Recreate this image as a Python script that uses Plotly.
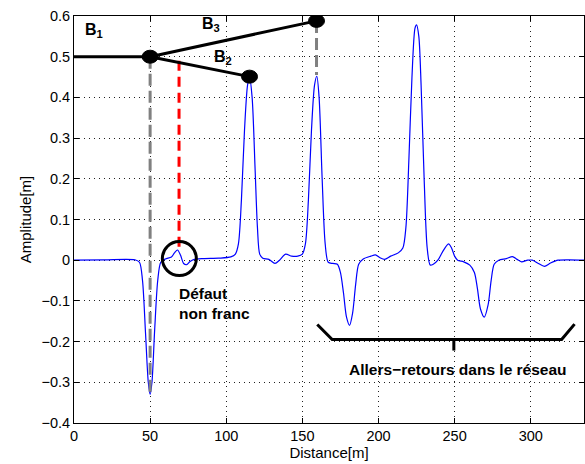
import plotly.graph_objects as go

# Signal (distance [m], amplitude [m])
dist = [0, 20, 40, 43, 45, 47, 48.8, 50, 51.2, 53, 55, 57, 60, 64, 66, 68, 70, 72, 74, 76, 79,
        85, 95, 103, 106, 108, 110, 112, 114, 115.3, 117, 119, 120.5, 122, 124, 128, 132,
        135, 139, 143, 147, 150, 152, 154, 156, 158, 159.5, 161, 163, 165, 167, 170, 173,
        175, 177, 179, 181, 183, 185, 187, 190, 195, 198, 201, 204, 208, 213, 216, 218,
        220, 222, 224, 225, 226.5, 228, 230, 232, 234, 236, 239, 242, 246, 248, 250, 252,
        256, 260, 263, 265, 267, 269.5, 272, 274, 276, 279, 284, 288, 291, 294, 298, 301,
        305, 309, 313, 318, 325, 336]
amp = [0.0, 0.001, 0.001, -0.005, -0.05, -0.18, -0.30, -0.33, -0.30, -0.17, -0.05, -0.005,
       0.003, 0.008, 0.018, 0.025, 0.012, -0.008, -0.011, -0.004, 0.002,
       0.004, 0.005, 0.008, 0.015, 0.04, 0.15, 0.32, 0.43, 0.45, 0.40, 0.22, 0.08, 0.015,
       0.005, 0.002, -0.008,
       0.0, 0.015, 0.01, 0.01, 0.015, 0.04, 0.15, 0.32, 0.43, 0.452, 0.40, 0.2, 0.04,
       -0.005, -0.008, -0.01,
       -0.03, -0.08, -0.14, -0.16, -0.13, -0.06, -0.01, 0.003, 0.01, 0.013, 0.006, 0.002,
       0.01, 0.018, 0.03, 0.08,
       0.25, 0.45, 0.57, 0.578, 0.55, 0.43, 0.2, 0.03, -0.012, -0.01, 0.0, 0.02, 0.04,
       0.03, 0.01, 0.0,
       -0.004, -0.012, -0.03, -0.07, -0.12, -0.14, -0.11, -0.05, -0.01, 0.0, 0.004, 0.009,
       0.002, -0.004, 0.0, 0.0,
       -0.008, -0.015, -0.007, 0.0, 0.001, 0.0]

# Network sketch nodes: junction, B2 end, B3 end
node_x = [50, 115.3, 159.3]
node_y = [0.5, 0.451, 0.588]
b1_start = [0, 0.5]
defect_x = 69
defect_top = 0.49
defect_bottom = 0.03
dip_bottom = -0.325
bracket_x = [159.8, 169.6, 320.3, 328.8]
bracket_y = [-0.158, -0.195, -0.195, -0.157]
bracket_tick_x = 249.5
bracket_tick_y = [-0.195, -0.222]

x_ticks = [0, 50, 100, 150, 200, 250, 300]
y_ticks = [0.6, 0.5, 0.4, 0.3, 0.2, 0.1, 0, -0.1, -0.2, -0.3, -0.4]
y_ticktext = ["0.6", "0.5", "0.4", "0.3", "0.2", "0.1", "0", "\u22120.1", "\u22120.2", "\u22120.3", "\u22120.4"]

FONT = "Liberation Sans, Arial, sans-serif"

fig = go.Figure()
fig.add_trace(go.Scatter(x=dist, y=amp, mode="lines",
                         line=dict(color="#0000ff", width=1.2, shape="spline", smoothing=0.8),
                         hoverinfo="skip", showlegend=False))

shapes = []
# gray dashed verticals
shapes.append(dict(type="line", x0=node_x[0], x1=node_x[0], y0=node_y[0], y1=dip_bottom,
                   line=dict(color="#808080", width=3, dash="12px,5px")))
shapes.append(dict(type="line", x0=node_x[2], x1=node_x[2], y0=node_y[2], y1=0.455,
                   line=dict(color="#808080", width=3, dash="12px,5px")))
# red dashed
shapes.append(dict(type="line", x0=defect_x, x1=defect_x, y0=defect_top, y1=defect_bottom,
                   line=dict(color="#ff0000", width=3, dash="10px,6px")))
# branches
shapes.append(dict(type="line", x0=b1_start[0], x1=node_x[0], y0=b1_start[1], y1=node_y[0],
                   line=dict(color="black", width=3)))
shapes.append(dict(type="line", x0=node_x[0], x1=node_x[1], y0=node_y[0], y1=node_y[1],
                   line=dict(color="black", width=3)))
shapes.append(dict(type="line", x0=node_x[0], x1=node_x[2], y0=node_y[0], y1=node_y[2],
                   line=dict(color="black", width=3)))
for nx, ny in zip(node_x, node_y):
    shapes.append(dict(type="circle", xref="x", yref="y", xsizemode="pixel", ysizemode="pixel",
                       xanchor=nx, yanchor=ny, x0=-8, x1=8, y0=-6.5, y1=6.5,
                       fillcolor="black", line=dict(color="black", width=1)))
# defect circle
shapes.append(dict(type="circle", xref="x", yref="y", xsizemode="pixel", ysizemode="pixel",
                   xanchor=defect_x + 0.2, yanchor=0.004, x0=-17, x1=17, y0=-17, y1=17,
                   line=dict(color="black", width=3)))
# bracket
path = "M {} {} L {} {} L {} {} L {} {}".format(bracket_x[0], bracket_y[0], bracket_x[1], bracket_y[1],
                                                bracket_x[2], bracket_y[2], bracket_x[3], bracket_y[3])
shapes.append(dict(type="path", path=path, line=dict(color="black", width=3)))
shapes.append(dict(type="line", x0=bracket_tick_x, x1=bracket_tick_x, y0=bracket_tick_y[0],
                   y1=bracket_tick_y[1], line=dict(color="black", width=3)))

ann_font = dict(family=FONT, size=15.5, color="black")
b_font = dict(family=FONT, size=16, color="black")
annotations = [
    dict(x=13, y=0.565, text="<b>B<sub>1</sub></b>", showarrow=False, font=b_font),
    dict(x=90, y=0.58, text="<b>B<sub>3</sub></b>", showarrow=False, font=b_font),
    dict(x=98, y=0.497, text="<b>B<sub>2</sub></b>", showarrow=False, font=b_font),
    dict(x=67.5, y=-0.055, text="<b>Défaut<br>non franc</b>", showarrow=False, xanchor="left",
         yanchor="top", align="left", font=ann_font),
    dict(x=252, y=-0.268, text="<b>Allers\u2212retours dans le réseau</b>", showarrow=False,
         font=ann_font),
]

axis_common = dict(showline=True, linecolor="black", linewidth=1, mirror="allticks",
                   ticks="inside", ticklen=5, tickcolor="black",
                   showgrid=True, gridcolor="#222222", griddash="1px,4px", gridwidth=1,
                   zeroline=False, tickfont=dict(family=FONT, size=14.5, color="black"))

fig.update_layout(
    width=585, height=464,
    margin=dict(l=74, r=1, t=16, b=41),
    paper_bgcolor="white", plot_bgcolor="white",
    shapes=shapes, annotations=annotations,
    xaxis=dict(range=[0, 335], tickvals=x_ticks, ticktext=[str(v) for v in x_ticks],
               title=dict(text="Distance[m]", font=dict(family=FONT, size=15, color="black"), standoff=1),
               **axis_common),
    yaxis=dict(range=[-0.4, 0.6], tickvals=y_ticks, ticktext=y_ticktext,
               title=dict(text="Amplitude[m]", font=dict(family=FONT, size=15, color="black"), standoff=6),
               **axis_common),
)

fig.write_html("out.html", config={"displayModeBar": False},
               post_script="document.body.style.margin='0';document.body.style.overflow='hidden';")
